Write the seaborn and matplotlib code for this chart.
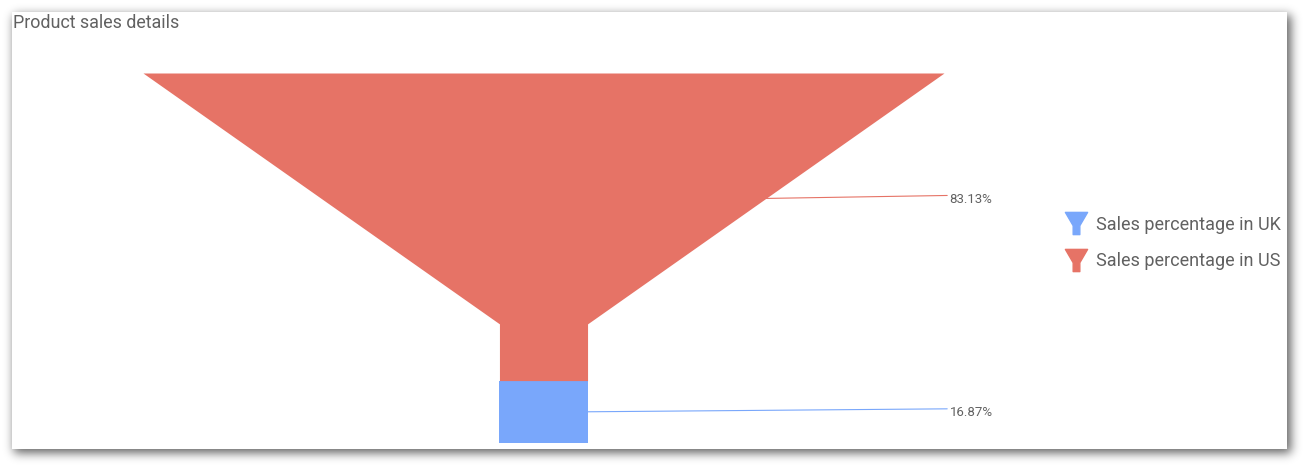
import numpy as np
import pandas as pd
import seaborn as sns
from matplotlib import pyplot as plt
from matplotlib.path import Path
from matplotlib.lines import Line2D
import matplotlib.patches as mpatches

# data
categories = ['Sales percentage in UK', 'Sales percentage in US']
values = [16.87, 83.13]
value_labels = ['16.87%', '83.13%']
colors = ['#79A7FB', '#E67366']

sns.set_theme(style='white')
plt.rcParams['font.family'] = ['Roboto', 'DejaVu Sans']
txt = '#616161'

W, H = 1307, 470
fig = plt.figure(figsize=(W / 100, H / 100), dpi=100)
fig.patch.set_facecolor('white')

# card shadow (blurred rectangle)
bg = fig.add_axes([0, 0, 1, 1])
bg.set_axis_off()
mask = np.zeros((H, W))
mask[15:453, 14:1291] = 1.0
k = np.exp(-0.5 * (np.arange(-16, 17) / 5.0) ** 2)
k /= k.sum()
mask = np.apply_along_axis(lambda r: np.convolve(r, k, mode='same'), 1, mask)
mask = np.apply_along_axis(lambda c: np.convolve(c, k, mode='same'), 0, mask)
rgba = np.zeros((H, W, 4))
rgba[..., 3] = mask * 0.62
bg.imshow(rgba, extent=(0, W, H, 0), interpolation='bilinear')
bg.add_patch(mpatches.Rectangle((12, 12), 1275, 437, facecolor='white', edgecolor='none'))
bg.set_xlim(0, W)
bg.set_ylim(H, 0)
bg.text(13, 23.5, 'Product sales details', fontsize=12.9, color=txt, va='center', ha='left')

# funnel
df = pd.DataFrame({'cat': categories, 'val': values, 'lab': value_labels, 'col': colors})
df['lo'] = df['val'].cumsum() - df['val']
df['hi'] = df['val'].cumsum()
total = df['val'].sum()
df['lo'] = df['lo'] / total * 100
df['hi'] = df['hi'] / total * 100

neck_h = 32.2
neck_w = 0.11

def half_width(y):
    y = np.asarray(y, dtype=float)
    cone = neck_w / 2 + (0.5 - neck_w / 2) * (y - neck_h) / (100 - neck_h)
    return np.where(y <= neck_h, neck_w / 2, cone)

ax = fig.add_axes([143 / W, 27 / H, 801 / W, 370 / H])
ax.set_axis_off()
ax.set_xlim(-0.5, 0.5)
ax.set_ylim(0, 100)

for _, r in df.iterrows():
    ys = np.unique(np.concatenate([[r.lo, r.hi], [neck_h] if r.lo < neck_h < r.hi else []]))
    hw = half_width(ys)
    ax.fill_betweenx(ys, -hw, hw, color=r.col, linewidth=0)
    # label anchor: middle of the part above the neck when there is one
    if r.hi > neck_h and r.lo < neck_h:
        ym = (neck_h + r.hi) / 2
    else:
        ym = (r.lo + r.hi) / 2
    x0 = float(half_width(ym))
    ax.plot([x0, 0.504], [ym, ym + 0.8], color=r.col, lw=0.8, clip_on=False)
    ax.text(0.507, ym - 0.2, r.lab, fontsize=9.5, color=txt, va='center', ha='left', clip_on=False)

# legend with funnel icons
funnel_icon = Path([(-1, 1), (1, 1), (0.3, -0.2), (0.3, -1), (-0.3, -1), (-0.3, -0.2), (-1, 1)],
                   [Path.MOVETO] + [Path.LINETO] * 5 + [Path.CLOSEPOLY])
handles = [Line2D([], [], marker=funnel_icon, markersize=16, linestyle='none',
                  markerfacecolor=c, markeredgecolor=c) for c in colors]
fig.legend(handles, categories, loc='center left', bbox_to_anchor=(1050 / W, 1 - 243 / H),
           frameon=False, fontsize=13, labelcolor=txt, handletextpad=0.55,
           labelspacing=1.05, handlelength=1.1)

fig.savefig('out.png', dpi=100, facecolor='white')
